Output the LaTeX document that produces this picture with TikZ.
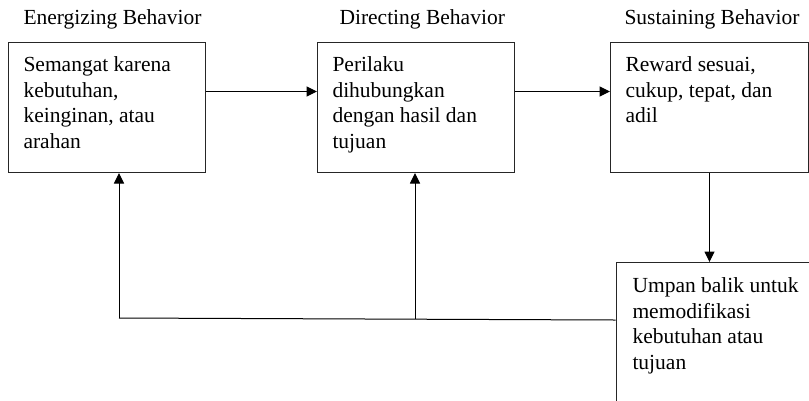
\documentclass[tikz,border=0pt]{standalone}
\usepackage{fontspec}
\setmainfont{Liberation Serif}
\usetikzlibrary{positioning, arrows.meta}
\tikzset{
    >={Triangle[length=10.5bp, width=10bp]}, % Filled arrowheads
    box/.style={draw=black!85, line width=1bp, minimum width=197bp, minimum height=130bp, anchor=north west, inner sep=0pt},
    txt/.style={align=left, inner sep=0pt, anchor=north west, font=\fontsize{21.5bp}{25.5bp}\selectfont},
    title/.style={inner sep=0pt, anchor=base west, font=\fontsize{21.5bp}{25.5bp}\selectfont},
}
\begin{document}
\begin{tikzpicture}[x=1bp, y=1bp, line width=1bp]
    \useasboundingbox (0,0) rectangle (809,-400);
    \clip (0,0) rectangle (809,-400);

    % --- Boxes ---
    \node[box] (energ) at (8,-42) {};
    \node[box, anchor=west, right=111bp of energ] (direct) {};
    \node[box, anchor=west, right=95bp of direct, minimum width=198bp] (sustain) {};
    \node[box, minimum width=260bp, minimum height=190bp] (umpan) at (615.5,-262) {};

    % --- Titles ---
    \node[title] (tenerg) at ([shift={(15bp,18bp)}]energ.north west) {Energizing Behavior};
    \node[title] (tdirect) at ([shift={(22bp,18bp)}]direct.north west) {Directing Behavior};
    \node[title] (tsustain) at ([shift={(14bp,18bp)}]sustain.north west) {Sustaining Behavior};

    % --- Texts ---
    \node[txt] (xenerg) at ([shift={(15bp,-14.5bp)}]energ.north west)
        {Semangat karena\\kebutuhan,\\keinginan, atau\\arahan};
    \node[txt] (xdirect) at ([shift={(15bp,-14.5bp)}]direct.north west)
        {Perilaku\\dihubungkan\\dengan hasil dan\\tujuan};
    \node[txt] (xsustain) at ([shift={(15bp,-14.5bp)}]sustain.north west)
        {Reward sesuai,\\cukup, tepat, dan\\adil};
    \node[txt] (xumpan) at ([shift={(16.5bp,-15.5bp)}]umpan.north west)
        {Umpan balik untuk\\memodifikasi\\kebutuhan atau\\tujuan};

    % --- Feedback points ---
    \coordinate (fbin) at ([yshift=-58bp]umpan.north west);
    \coordinate (fbe) at (119,-318);
    \coordinate (fbd) at (415,-319);

    % --- Arrows ---
    \draw[->] ([yshift=16bp]energ.east) -- ([yshift=16bp]direct.west);
    \draw[->] ([yshift=16bp]direct.east) -- ([yshift=16bp]sustain.west);
    \draw[->] (sustain.south) -- (sustain.south |- umpan.north);
    \draw (fbin) -- (fbe);
    \draw[->] (fbe) -- (fbe |- energ.south);
    \draw[->] (fbd) -- (fbd |- direct.south);

\end{tikzpicture}
\end{document}
